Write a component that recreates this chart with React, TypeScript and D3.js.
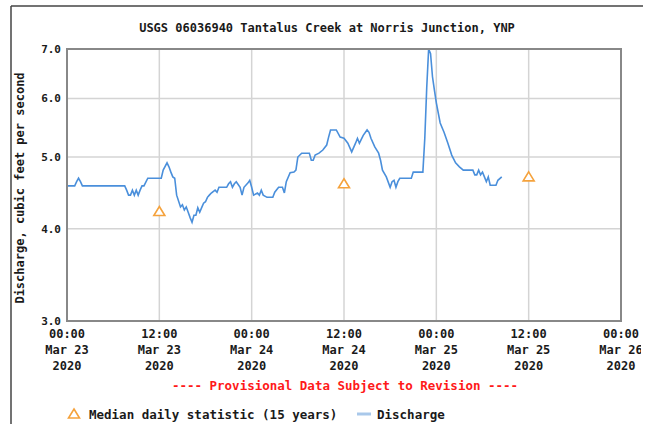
import React from "react";
import * as d3 from "d3";

const TITLE = "USGS 06036940 Tantalus Creek at Norris Junction, YNP";
const Y_LABEL = "Discharge, cubic feet per second";
const PROVISIONAL = "---- Provisional Data Subject to Revision ----";

// hours since 2020-03-23 00:00
const hours = [
  0, 1.0, 1.25, 1.5, 1.75, 2.0, 7.5, 7.75, 8.0, 8.25, 8.5, 8.75, 9.0, 9.25, 9.5, 9.75, 10.0, 10.5,
  12.25, 12.5, 13.0, 13.25, 13.5, 13.75, 14.0, 14.25, 14.75, 15.0, 15.25, 15.5, 15.75, 16.0, 16.25,
  16.5, 16.75, 17.0, 17.25, 17.5, 17.75, 18.0, 18.25, 18.5, 18.75, 19.25, 19.5, 19.75, 20.0, 20.75,
  21.0, 21.25, 21.5, 21.75, 22.0, 22.5, 22.75, 23.0, 23.5, 23.75, 24.0, 24.25, 24.75, 25.0, 25.25,
  25.5, 26.0, 26.75, 27.0, 27.5, 28.0, 28.25, 28.5, 29.0, 29.5, 29.75, 30.0, 30.5, 31.0, 31.5, 31.75,
  32.0, 32.25, 32.75, 33.25, 33.75, 34.0, 34.25, 35.0, 35.5, 36.0, 36.5, 37.0, 37.5, 37.75, 38.0,
  38.5, 39.0, 39.25, 39.5, 40.0, 40.5, 40.75, 41.0, 41.5, 42.0, 42.25, 42.5, 42.75, 43.0, 43.25,
  44.75, 45.0, 46.25, 46.5, 46.75, 47.0, 47.25, 47.5, 47.75, 48.0, 48.5, 49.0, 49.5, 50.0, 50.5,
  51.0, 51.5, 52.75, 53.0, 53.25, 53.5, 53.75, 54.0, 54.25, 54.5, 54.75, 55.0, 55.75, 56.0, 56.5,
];
const discharge = [
  4.57, 4.57, 4.63, 4.68, 4.63, 4.57, 4.57, 4.51, 4.44, 4.44, 4.51, 4.44, 4.51, 4.44, 4.51, 4.57, 4.57, 4.68,
  4.68, 4.8, 4.91, 4.85, 4.77, 4.7, 4.68, 4.44, 4.28, 4.31, 4.24, 4.28, 4.21, 4.14, 4.08,
  4.17, 4.17, 4.27, 4.21, 4.27, 4.33, 4.35, 4.41, 4.44, 4.47, 4.51, 4.48, 4.55, 4.55, 4.55,
  4.6, 4.63, 4.55, 4.6, 4.63, 4.55, 4.44, 4.55, 4.61, 4.65, 4.55, 4.44, 4.47, 4.44, 4.51,
  4.44, 4.41, 4.41, 4.48, 4.55, 4.55, 4.47, 4.63, 4.76, 4.77, 4.8, 5.0, 5.06, 5.06, 5.06, 4.95,
  4.95, 5.03, 5.06, 5.11, 5.19, 5.32, 5.44, 5.44, 5.32, 5.3, 5.22, 5.08, 5.22, 5.3, 5.22,
  5.35, 5.44, 5.4, 5.3, 5.16, 5.06, 4.95, 4.8, 4.7, 4.55, 4.63, 4.65, 4.55, 4.63, 4.68,
  4.68, 4.77, 4.77, 5.3, 6.2, 7.0, 6.9, 6.42, 6.16, 5.92, 5.56, 5.4, 5.22, 5.03, 4.91,
  4.85, 4.8, 4.8, 4.73, 4.73, 4.8, 4.73, 4.77, 4.7, 4.63, 4.7, 4.58, 4.58, 4.65, 4.7,
];

const medianHours = [12, 36, 60];
const medianValues = [4.22, 4.6, 4.7];

const xTickHours = [0, 12, 24, 36, 48, 60, 72];
const xTickTimes = ["00:00", "12:00", "00:00", "12:00", "00:00", "12:00", "00:00"];
const xTickDays = ["Mar 23", "Mar 23", "Mar 24", "Mar 24", "Mar 25", "Mar 25", "Mar 26"];
const xTickYears = ["2020", "2020", "2020", "2020", "2020", "2020", "2020"];
const yTicks = [3, 4, 5, 6, 7];

const W = 654;
const H = 424;
const PL = 67, PR = 621, PT = 49, PB = 321;
const FONT = "'DejaVu Sans Mono', monospace";
const BLUE = "#4a8fdb";
const ORANGE = "#f5a23c";

export default function App() {
  const x = d3.scaleLinear().domain([0, 72]).range([PL, PR]);
  const y = d3.scaleLog().domain([3, 7]).range([PB, PT]);
  const pts = hours.map((h, i) => [h, discharge[i]] as [number, number]);
  const line = d3
    .line<[number, number]>()
    .x((d) => x(d[0]))
    .y((d) => y(d[1]));
  const tri = (cx: number, cy: number) =>
    `M${cx},${cy - 5} L${cx + 5.5},${cy + 4} L${cx - 5.5},${cy + 4} Z`;

  return (
    <svg
      width={W}
      height={H}
      style={{ position: "absolute", left: 0, top: 0, background: "#fff" }}
      fontFamily={FONT}
      fontWeight="bold"
    >
      <rect x={0} y={0} width={W} height={H} fill="#fff" />
      <defs>
        <clipPath id="plotclip">
          <rect x={PL} y={PT} width={PR - PL} height={PB - PT} />
        </clipPath>
        <clipPath id="pageclip">
          <rect x={0} y={0} width={641} height={H} />
        </clipPath>
      </defs>
      {/* outer frame */}
      <line x1={11} y1={6} x2={643} y2={6} stroke="#444" strokeWidth={1.5} />
      <line x1={11} y1={6} x2={11} y2={H} stroke="#444" strokeWidth={1.5} />

      <text x={327} y={32} textAnchor="middle" fontSize={12} fill="#1a1a1a">
        {TITLE}
      </text>

      {/* grid */}
      {xTickHours.slice(1, -1).map((h) => (
        <line key={"gx" + h} x1={x(h)} x2={x(h)} y1={PT} y2={PB} stroke="#d4d4d4" strokeWidth={1.5} />
      ))}
      {yTicks.slice(1, -1).map((v) => (
        <line key={"gy" + v} x1={PL} x2={PR} y1={y(v)} y2={y(v)} stroke="#d4d4d4" strokeWidth={1.5} />
      ))}

      <path d={line(pts) || ""} fill="none" stroke={BLUE} strokeWidth={1.6} clipPath="url(#plotclip)" />

      {medianHours.map((h, i) => (
        <path key={"m" + i} d={tri(x(h), y(medianValues[i]))} fill="#fff" stroke={ORANGE} strokeWidth={1.6} />
      ))}

      <rect x={PL} y={PT} width={PR - PL} height={PB - PT} fill="none" stroke="#888" strokeWidth={2} />

      {/* y ticks */}
      {yTicks.map((v) => (
        <text key={"yt" + v} x={61} y={y(v) + 4} textAnchor="end" fontSize={11} fill="#1a1a1a">
          {v.toFixed(1)}
        </text>
      ))}
      <text
        transform={`translate(24,${(PT + PB) / 2 + 3}) rotate(-90)`}
        textAnchor="middle"
        fontSize={12}
        fill="#1a1a1a"
      >
        {Y_LABEL}
      </text>

      {/* x ticks */}
      <g clipPath="url(#pageclip)">
        {xTickHours.map((h, i) => (
          <g key={"xt" + h} transform={`translate(${x(h)},0)`} fontSize={12} fill="#1a1a1a" textAnchor="middle">
            <text y={338}>{xTickTimes[i]}</text>
            <text y={354}>{xTickDays[i]}</text>
            <text y={370}>{xTickYears[i]}</text>
          </g>
        ))}
      </g>

      <text x={345} y={390} textAnchor="middle" fontSize={12.5} fill="#ff1a1a">
        {PROVISIONAL}
      </text>

      {/* legend */}
      <path d={tri(74, 414)} fill="#fff" stroke={ORANGE} strokeWidth={1.6} />
      <text x={89} y={419} fontSize={12.5} fill="#1a1a1a">
        Median daily statistic (15 years)
      </text>
      <line x1={357} x2={371} y1={414} y2={414} stroke="#a9c8ea" strokeWidth={3} />
      <text x={377} y={419} fontSize={12.5} fill="#1a1a1a">
        Discharge
      </text>
    </svg>
  );
}
